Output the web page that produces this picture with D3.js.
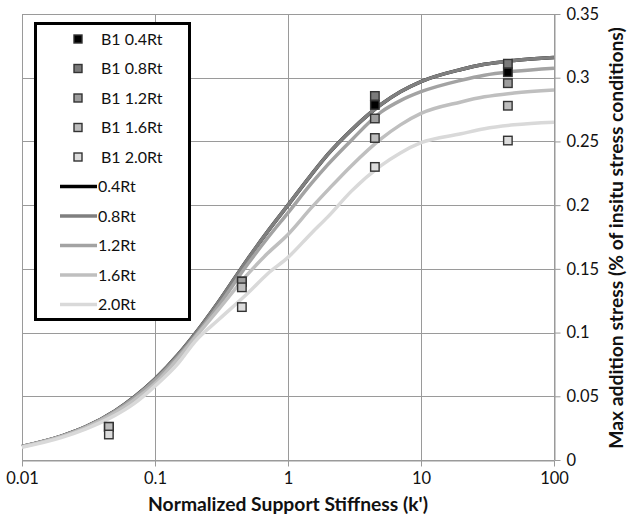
<!DOCTYPE html>
<html>
<head>
<meta charset="utf-8">
<script src="https://cdn.jsdelivr.net/npm/d3@7"></script>
<style>
  html, body { margin: 0; padding: 0; background: #fff; }
  svg { display: block; font-family: Lato, "Open Sans", sans-serif; }
</style>
</head>
<body>
<svg id="chart" width="627" height="520"></svg>
<script>
// Normalized support stiffness values where the B1 results were measured
const measuredK = [0.045, 0.45, 4.5, 45];

// B1 measured maximum additional stress, one array per tunnel offset
const b1_04 = [0.026, 0.140, 0.2786, 0.3043];
const b1_08 = [0.026, 0.140, 0.2857, 0.3110];
const b1_12 = [0.026, 0.140, 0.2680, 0.2957];
const b1_16 = [0.026, 0.1355, 0.2527, 0.2780];
const b1_20 = [0.020, 0.120, 0.2300, 0.2507];

// Stiffness grid of the fitted curves
const curveK = [0.01, 0.02, 0.03, 0.05, 0.07, 0.1, 0.15, 0.2, 0.3, 0.5, 0.7,
                1, 1.5, 2, 3, 5, 7, 10, 20, 30, 50, 100];

// Fitted curves for each offset
const fit_04 = [0.0107, 0.019, 0.026, 0.0385, 0.0495, 0.0635, 0.083, 0.099, 0.124, 0.158, 0.179,
                0.200, 0.224, 0.240, 0.259, 0.279, 0.289, 0.297, 0.3065, 0.3105, 0.3135, 0.3158];
const fit_08 = [0.0107, 0.019, 0.026, 0.0385, 0.0495, 0.0635, 0.083, 0.099, 0.124, 0.158, 0.179,
                0.200, 0.224, 0.240, 0.259, 0.279, 0.289, 0.297, 0.3065, 0.3105, 0.3135, 0.3158];
const fit_12 = [0.0106, 0.0188, 0.0258, 0.038, 0.0488, 0.0625, 0.0815, 0.097, 0.121, 0.154, 0.174,
                0.194, 0.217, 0.232, 0.251, 0.273, 0.282, 0.289, 0.298, 0.302, 0.305, 0.3075];
const fit_16 = [0.0104, 0.0185, 0.0253, 0.037, 0.0472, 0.060, 0.080, 0.096, 0.118, 0.146, 0.162,
                0.177, 0.198, 0.212, 0.231, 0.252, 0.263, 0.272, 0.281, 0.285, 0.288, 0.2904];
const fit_20 = [0.0100, 0.0178, 0.0243, 0.035, 0.0445, 0.058, 0.076, 0.093, 0.110, 0.131, 0.146,
                0.159, 0.178, 0.191, 0.211, 0.231, 0.241, 0.249, 0.256, 0.260, 0.263, 0.265];

// Axis ticks
const xTicks = [0.01, 0.1, 1, 10, 100];
const xTickLabels = ["0.01", "0.1", "1", "10", "100"];
const yTicks = [0, 0.05, 0.1, 0.15, 0.2, 0.25, 0.3, 0.35];
const yTickLabels = ["0", "0.05", "0.1", "0.15", "0.2", "0.25", "0.3", "0.35"];

const pointNames = ["B1 0.4Rt", "B1 0.8Rt", "B1 1.2Rt", "B1 1.6Rt", "B1 2.0Rt"];
const lineNames = ["0.4Rt", "0.8Rt", "1.2Rt", "1.6Rt", "2.0Rt"];

const pointSeries = [b1_04, b1_08, b1_12, b1_16, b1_20];
const fitSeries = [fit_04, fit_08, fit_12, fit_16, fit_20];

const markerFill = ["#000000", "#7a7a7a", "#9d9d9d", "#bdbdbd", "#dcdcdc"];
const lineColor = ["#000000", "#7f7f7f", "#a3a3a3", "#bfbfbf", "#d9d9d9"];

const svg = d3.select("#chart");
const plot = { left: 22, right: 554, top: 14, bottom: 460 };

const x = d3.scaleLog().domain([0.01, 100]).range([plot.left, plot.right]);
const y = d3.scaleLinear().domain([0, 0.35]).range([plot.bottom, plot.top]);

const gridColor = "#9a9a9a";

// Grid lines
svg.append("g").selectAll("line.h").data(yTicks).join("line")
  .attr("x1", plot.left).attr("x2", plot.right)
  .attr("y1", d => Math.round(y(d)) + 0.5).attr("y2", d => Math.round(y(d)) + 0.5)
  .attr("stroke", gridColor).attr("stroke-width", 1);
svg.append("g").selectAll("line.v").data(xTicks).join("line")
  .attr("x1", d => Math.round(x(d)) + 0.5).attr("x2", d => Math.round(x(d)) + 0.5)
  .attr("y1", plot.top).attr("y2", plot.bottom)
  .attr("stroke", gridColor).attr("stroke-width", 1);

// Bottom axis
const xAxis = d3.axisBottom(x).tickValues(xTicks)
  .tickFormat((d, i) => xTickLabels[i]).tickSize(6).tickSizeOuter(0).tickPadding(6);
const gx = svg.append("g").attr("transform", `translate(0,${plot.bottom + 0.5})`).call(xAxis);
gx.select(".domain").attr("stroke", gridColor);
gx.selectAll(".tick line").attr("stroke", gridColor);
gx.selectAll(".tick text").attr("font-size", 16.5).attr("fill", "#111")
  .attr("font-family", "Lato, sans-serif");

// Right axis
const yAxis = d3.axisRight(y).tickValues(yTicks)
  .tickFormat((d, i) => yTickLabels[i]).tickSize(6).tickSizeOuter(0).tickPadding(6);
const gy = svg.append("g").attr("transform", `translate(${plot.right + 0.5},0)`).call(yAxis);
gy.select(".domain").attr("stroke", gridColor);
gy.selectAll(".tick line").attr("stroke", gridColor);
gy.selectAll(".tick text").attr("font-size", 16.5).attr("fill", "#111")
  .attr("font-family", "Lato, sans-serif");

// Fitted curves
const line = d3.line()
  .x((d, i) => x(curveK[i]))
  .y(d => y(d))
  .curve(d3.curveMonotoneX);
svg.append("g").selectAll("path").data(fitSeries).join("path")
  .attr("d", d => line(d))
  .attr("fill", "none")
  .attr("stroke", (d, i) => lineColor[i])
  .attr("stroke-width", 3.5)
  .attr("stroke-linejoin", "round");

// Measured points
const ms = 8.5;
pointSeries.forEach((vals, s) => {
  svg.append("g").selectAll("rect").data(vals).join("rect")
    .attr("x", (d, i) => x(measuredK[i]) - ms / 2)
    .attr("y", d => y(d) - ms / 2)
    .attr("width", ms).attr("height", ms)
    .attr("fill", markerFill[s])
    .attr("stroke", "#333").attr("stroke-width", 1.4);
});

// Legend
const lg = svg.append("g");
lg.append("rect").attr("x", 35.5).attr("y", 23.5).attr("width", 154).attr("height", 296)
  .attr("fill", "#fff").attr("stroke", "#000").attr("stroke-width", 3);
const rowY = i => 39 + i * 29.5;
pointNames.forEach((name, i) => {
  lg.append("rect").attr("x", 74).attr("y", rowY(i) - 4).attr("width", 8).attr("height", 8)
    .attr("fill", markerFill[i]).attr("stroke", "#333").attr("stroke-width", 1.4);
  lg.append("text").attr("x", 101).attr("y", rowY(i)).attr("dy", "0.35em")
    .attr("font-size", 16).attr("fill", "#111").text(name);
});
lineNames.forEach((name, j) => {
  const i = j + 5;
  lg.append("line").attr("x1", 60).attr("x2", 97).attr("y1", rowY(i)).attr("y2", rowY(i))
    .attr("stroke", lineColor[j]).attr("stroke-width", 3.5);
  lg.append("text").attr("x", 98).attr("y", rowY(i)).attr("dy", "0.35em")
    .attr("font-size", 16).attr("fill", "#111").text(name);
});

// Axis titles
svg.append("text").attr("x", (plot.left + plot.right) / 2).attr("y", 511)
  .attr("text-anchor", "middle").attr("font-weight", "bold").attr("font-size", 19.3)
  .attr("fill", "#111").text("Normalized Support Stiffness (k')");
svg.append("text")
  .attr("transform", `translate(623,${(plot.top + plot.bottom) / 2 + 1}) rotate(-90)`)
  .attr("text-anchor", "middle").attr("font-weight", "bold").attr("font-size", 19.3)
  .attr("fill", "#111").text("Max addition stress (% of insitu stress conditions)");
</script>
</body>
</html>
